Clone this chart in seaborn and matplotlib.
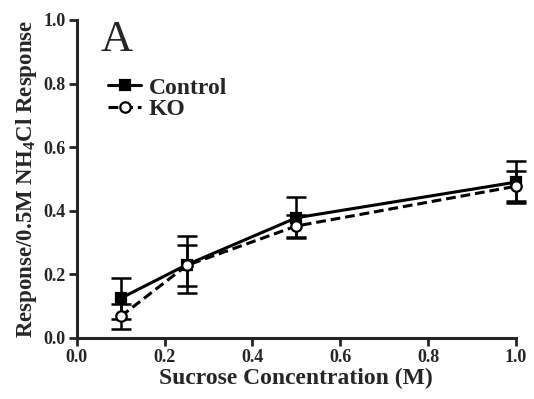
import numpy as np
import pandas as pd
import matplotlib
matplotlib.use('Agg')
import matplotlib.pyplot as plt
import seaborn as sns

# values
sucrose = [0.1, 0.25, 0.5, 1.0]
control_mean = [0.125, 0.23, 0.378, 0.49]
control_sem = [0.065, 0.09, 0.065, 0.065]
ko_mean = [0.068, 0.228, 0.352, 0.477]
ko_sem = [0.04, 0.065, 0.035, 0.047]

df = pd.DataFrame({
    'Sucrose': sucrose * 2,
    'Response': control_mean + ko_mean,
    'SEM': control_sem + ko_sem,
    'Group': ['Control'] * 4 + ['KO'] * 4,
})

sns.set_style('ticks')
plt.rcParams['font.family'] = ['Liberation Serif', 'DejaVu Serif']
plt.rcParams['font.weight'] = 'bold'
plt.rcParams['mathtext.fontset'] = 'custom'
plt.rcParams['mathtext.rm'] = 'Liberation Serif:bold'
plt.rcParams['mathtext.it'] = 'Liberation Serif:bold'
plt.rcParams['mathtext.bf'] = 'Liberation Serif:bold'

fig = plt.figure(figsize=(5.34, 3.99), dpi=100)
ax = fig.add_axes([0.144, 0.153, 0.822, 0.797])

# error bars (SEM)
for grp in ['Control', 'KO']:
    sub = df[df['Group'] == grp]
    eb = ax.errorbar(sub['Sucrose'], sub['Response'], yerr=sub['SEM'], fmt='none',
                     ecolor='black', elinewidth=1.8, capsize=7, capthick=1.8, zorder=2)
    for art in list(eb.lines[1]) + list(eb.lines[2]):
        art.set_clip_on(False)

sns.lineplot(data=df, x='Sucrose', y='Response', hue='Group', style='Group',
             palette={'Control': 'black', 'KO': 'black'},
             dashes={'Control': '', 'KO': (3.2, 1.6)},
             markers={'Control': 's', 'KO': 'o'},
             markersize=7.5, linewidth=2.2, markeredgewidth=1.6,
             markeredgecolor='black', ax=ax, zorder=3)

# open circles for KO
for line in ax.get_lines():
    line.set_clip_on(False)
    if line.get_marker() == 'o':
        line.set_markerfacecolor('white')
for coll in ax.collections:
    coll.set_clip_on(False)

ticks = np.arange(0, 1.01, 0.2)
ax.set_xlim(0, 1.0)
ax.set_ylim(0, 1.0)
ax.set_xticks(ticks)
ax.set_yticks(ticks)
ax.set_xticklabels([f'{v:.1f}' for v in ticks])
ax.set_yticklabels([f'{v:.1f}' for v in ticks])
ax.tick_params(width=2, length=6, labelsize=13, pad=2)
for lbl in ax.get_xticklabels() + ax.get_yticklabels():
    lbl.set_fontweight('bold')
for s in ['left', 'bottom']:
    ax.spines[s].set_linewidth(2.2)
sns.despine(ax=ax)

ax.set_xlabel('Sucrose Concentration (M)', fontsize=17, fontweight='bold', labelpad=1)
ax.set_ylabel(r'Response/0.5M NH$_4$Cl Response', fontsize=16.5, fontweight='bold', labelpad=3)

ax.text(0.055, 1.0, 'A', transform=ax.transAxes, fontsize=32, fontweight='normal',
        va='top', ha='left')

handles, labels = ax.get_legend_handles_labels()
for h in handles:
    if h.get_marker() == 'o':
        h.set_markerfacecolor('white')
leg = ax.legend(handles, labels, loc='upper left', bbox_to_anchor=(0.05, 0.85),
                frameon=False, fontsize=17, handlelength=1.4, handletextpad=0.3,
                labelspacing=0.0, borderaxespad=0)
for t in leg.get_texts():
    t.set_fontweight('bold')

fig.savefig('out.png', dpi=100)
